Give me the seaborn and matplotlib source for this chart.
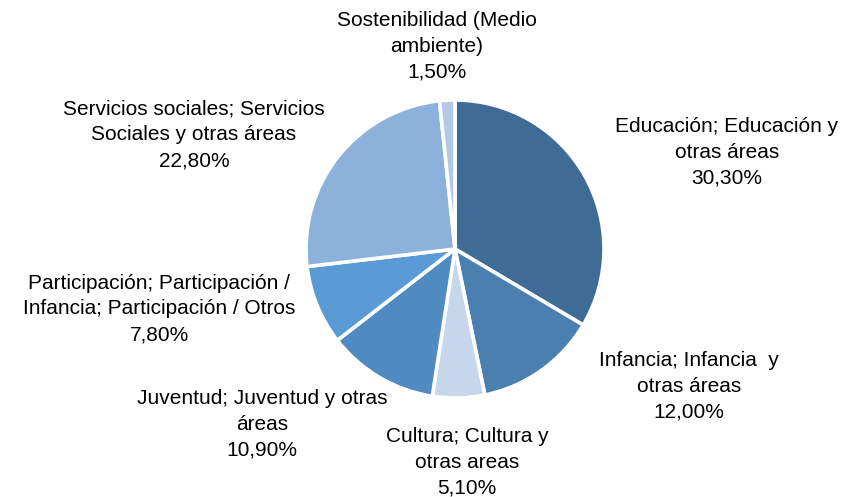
import matplotlib
matplotlib.use("Agg")
import matplotlib.pyplot as plt
import seaborn as sns

categories = [
    "Educación; Educación y\notras áreas",
    "Infancia; Infancia  y\notras áreas",
    "Cultura; Cultura y\notras areas",
    "Juventud; Juventud y otras\náreas",
    "Participación; Participación /\nInfancia; Participación / Otros",
    "Servicios sociales; Servicios\nSociales y otras áreas",
    "Sostenibilidad (Medio\nambiente)",
]
values = [30.3, 12.0, 5.1, 10.9, 7.8, 22.8, 1.5]
value_labels = ["30,30%", "12,00%", "5,10%", "10,90%", "7,80%", "22,80%", "1,50%"]
colors = ["#3F6C97", "#4A7FB0", "#C6D7EC", "#4F8BC1", "#5A9BD5", "#8CB2DC", "#B3C9E7"]

sns.set_style("white")
plt.rcParams["font.family"] = ["Liberation Sans", "DejaVu Sans"]

W, H = 852, 497
cx, cy, R = 455, 249, 149
fig = plt.figure(figsize=(W / 100, H / 100), dpi=100)
ax = fig.add_axes([0, 0, 1, 1])
ax.pie(values, colors=colors, startangle=90, counterclock=False, radius=1,
       wedgeprops=dict(edgecolor="white", linewidth=2.6))
ax.set_xlim(-cx / R, (W - cx) / R)
ax.set_ylim(-(H - cy) / R, cy / R)
ax.set_aspect("auto")
ax.axis("off")

# label centres in pixel layout
label_pos = [(727, 152), (689, 386), (467, 462), (262, 424), (159, 309), (194, 135), (437, 46)]
for cat, lab, (px, py) in zip(categories, value_labels, label_pos):
    ax.text((px - cx) / R, (cy - py) / R, cat + "\n" + lab, ha="center", va="center",
            fontsize=15, color="#000000", linespacing=1.44)

fig.savefig("out.png", dpi=100)
